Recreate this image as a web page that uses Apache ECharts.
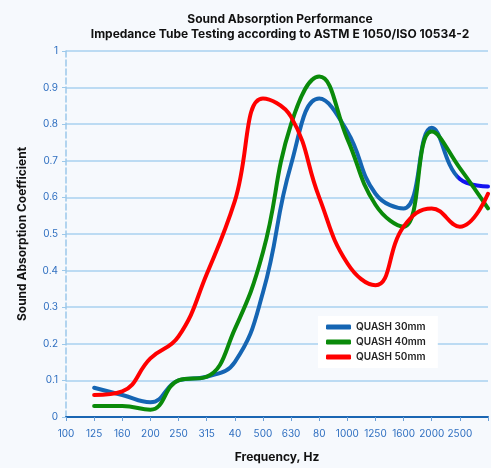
<!DOCTYPE html>
<html>
<head>
<meta charset="utf-8">
<script src="https://cdn.jsdelivr.net/npm/echarts@6/dist/echarts.min.js"></script>
<style>
  html, body { margin: 0; padding: 0; background: #f6f9fd; }
  #chart { width: 491px; height: 468px; }
</style>
</head>
<body>
<div id="chart"></div>
<script>
var freqLabels = ["100", "125", "160", "200", "250", "315", "40", "500", "630", "80", "1000", "1250", "1600", "2000", "2500", ""];

var quash30 = [null, 0.08, 0.06, 0.04, 0.1, 0.11, 0.15, 0.34, 0.69, 0.87, 0.78, 0.61, 0.57, 0.79, 0.65, 0.63];
var quash40 = [null, 0.03, 0.03, 0.02, 0.1, 0.11, 0.24, 0.45, 0.8, 0.93, 0.76, 0.58, 0.52, 0.78, 0.68, 0.57];
var quash50 = [null, 0.06, 0.07, 0.16, 0.22, 0.39, 0.59, 0.87, 0.82, 0.6, 0.42, 0.36, 0.52, 0.57, 0.52, 0.61];

var chart = echarts.init(document.getElementById("chart"));

var font = "Inter, 'Noto Sans', sans-serif";
var axisBlue = "#2f6fc0";

// the 30mm line turns a brighter blue after 2500 in the original
var blueLine = new echarts.graphic.LinearGradient(0, 0, 1, 0, [
  { offset: 0, color: "#1565b3" },
  { offset: 0.915, color: "#1565b3" },
  { offset: 0.92, color: "#1414f0" },
  { offset: 1, color: "#1414f0" }
]);

var option = {
  backgroundColor: "#f6f9fd",
  textStyle: { fontFamily: font },
  title: {
    text: "Sound Absorption Performance\nImpedance Tube Testing according to ASTM E 1050/ISO 10534-2",
    left: 275,
    textAlign: "center",
    top: 7,
    textStyle: { fontSize: 12, fontWeight: "bold", color: "#111", lineHeight: 15, fontFamily: font }
  },
  legend: {
    orient: "vertical",
    left: 318,
    top: 316,
    backgroundColor: "#ffffff",
    padding: [6, 12, 6, 8],
    itemGap: 5,
    itemWidth: 25,
    itemHeight: 5,
    icon: "roundRect",
    textStyle: { fontSize: 10, fontWeight: 600, color: "#222", fontFamily: font },
    data: [
      { name: "QUASH 30mm", itemStyle: { color: "#1565b3" } },
      { name: "QUASH 40mm" },
      { name: "QUASH 50mm" }
    ]
  },
  grid: { left: 66, right: 3, top: 51, bottom: 47 },
  xAxis: {
    type: "category",
    data: freqLabels,
    boundaryGap: false,
    name: "Frequency, Hz",
    nameLocation: "middle",
    nameGap: 34,
    nameTextStyle: { fontSize: 12, fontWeight: "bold", color: "#111" },
    axisLine: { lineStyle: { color: "#1a66b3", width: 2 } },
    axisTick: { show: true, length: 4, lineStyle: { color: "#6a9fd6" } },
    axisLabel: { color: axisBlue, fontSize: 10, margin: 12, interval: 0 },
    splitLine: { show: false }
  },
  yAxis: {
    type: "value",
    min: 0,
    max: 1,
    interval: 0.1,
    name: "Sound Absorption Coefficient",
    nameLocation: "middle",
    nameGap: 38,
    nameTextStyle: { fontSize: 12, fontWeight: "bold", color: "#111" },
    axisLine: { show: true, lineStyle: { color: "#9cc8ea", type: "dashed", width: 1.5 } },
    axisTick: { show: true, length: 4, lineStyle: { color: "#9cc8ea" } },
    axisLabel: { color: axisBlue, fontSize: 10, margin: 8 },
    splitLine: { lineStyle: { color: "#a9d0ef", width: 1.5 } }
  },
  series: [
    {
      name: "QUASH 30mm",
      type: "line",
      data: quash30,
      smooth: 0.45,
      showSymbol: false,
      itemStyle: { color: "#1565b3" },
      lineStyle: { width: 4, cap: "round", color: blueLine },
      z: 3
    },
    {
      name: "QUASH 40mm",
      type: "line",
      data: quash40,
      smooth: 0.45,
      showSymbol: false,
      color: "#0a8a0a",
      lineStyle: { width: 4, cap: "round" },
      z: 4
    },
    {
      name: "QUASH 50mm",
      type: "line",
      data: quash50,
      smooth: 0.45,
      showSymbol: false,
      color: "#ff0000",
      lineStyle: { width: 4, cap: "round" },
      z: 5
    }
  ]
};

chart.setOption(option);
</script>
</body>
</html>
